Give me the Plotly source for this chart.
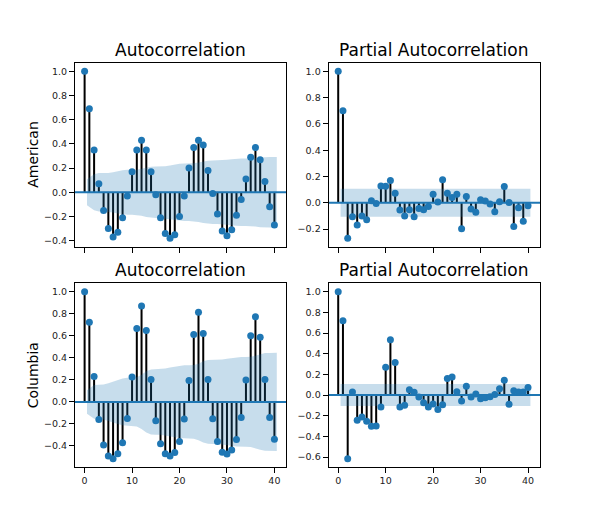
import numpy as np
import plotly.graph_objects as go

# ---------------- data ----------------
lags = list(range(41))

acf_american = [1.0, 0.69, 0.35, 0.07, -0.15, -0.30, -0.37, -0.33, -0.21, -0.03,
                0.17, 0.35, 0.43, 0.35, 0.17, -0.02, -0.21, -0.34, -0.38, -0.35,
                -0.20, -0.03, 0.20, 0.37, 0.43, 0.39, 0.18, -0.01, -0.18, -0.32,
                -0.36, -0.31, -0.19, -0.06, 0.11, 0.29, 0.37, 0.27, 0.09, -0.12,
                -0.27]

pacf_american = [1.0, 0.70, -0.27, -0.107, -0.17, -0.10, -0.13, 0.015, -0.005, 0.128,
                 0.125, 0.17, 0.072, -0.055, -0.10, -0.053, -0.107, -0.043, -0.053, -0.028,
                 0.065, 0.005, 0.175, 0.073, 0.04, 0.065, -0.197, 0.048, -0.048, -0.073,
                 0.023, 0.013, -0.01, -0.068, 0.008, 0.123, 0.003, -0.18, -0.038, -0.14,
                 -0.023]

acf_columbia = [1.0, 0.724, 0.23, -0.16, -0.39, -0.49, -0.515, -0.47, -0.37, -0.15,
                0.227, 0.667, 0.87, 0.648, 0.203, -0.17, -0.38, -0.47, -0.49, -0.46,
                -0.36, -0.155, 0.194, 0.612, 0.815, 0.62, 0.203, -0.152, -0.36, -0.458,
                -0.473, -0.436, -0.342, -0.142, 0.20, 0.60, 0.773, 0.588, 0.203, -0.142,
                -0.34]

pacf_columbia = [1.0, 0.72, -0.616, 0.03, -0.245, -0.213, -0.255, -0.303, -0.30, -0.116,
                 0.268, 0.535, 0.316, -0.116, -0.10, 0.052, 0.026, -0.02, -0.074, -0.116,
                 -0.087, -0.139, -0.094, 0.16, 0.174, 0.032, -0.058, 0.084, -0.02, 0.01,
                 -0.035, -0.026, -0.016, 0.006, 0.061, 0.142, -0.09, 0.042, 0.03, 0.03,
                 0.074]

n_obs = 336          # sample size implied by the +-0.107 band at lag 1
row_labels = ["American", "Columbia"]
titles = ["Autocorrelation", "Partial Autocorrelation"]
x_tick_vals = [0, 10, 20, 30, 40]

# ---------------- confidence bands (statsmodels style) ----------------
def acf_band(r):
    r = np.asarray(r, float)
    var = np.ones(len(r)) / n_obs
    var[0] = 0
    var[2:] *= 1 + 2 * np.cumsum(r[1:-1] ** 2)
    return 1.96 * np.sqrt(var)

def pacf_band(r):
    b = np.full(len(r), 1.96 / np.sqrt(n_obs))
    b[0] = 0
    return b

panels = [
    (acf_american, acf_band(acf_american), titles[0]),
    (pacf_american, pacf_band(pacf_american), titles[1]),
    (acf_columbia, acf_band(acf_columbia), titles[0]),
    (pacf_columbia, pacf_band(pacf_columbia), titles[1]),
]

W, H = 600, 525
OFF = 8  # page body margin
x_doms = [[(75 - OFF) / W, (286.4 - OFF) / W], [(328.6 - OFF) / W, (540 - OFF) / W]]
y_doms = [[1 - (246.6 - OFF) / H, 1 - (63 - OFF) / H],
          [1 - (467 - OFF) / H, 1 - (283.4 - OFF) / H]]

C0 = "#1f77b4"
FONT = "DejaVu Sans"

fig = go.Figure()
layout = dict(width=W, height=H, margin=dict(l=0, r=0, t=0, b=0),
              paper_bgcolor="white", plot_bgcolor="white", showlegend=False,
              annotations=[])

for i, (vals, band, title) in enumerate(panels):
    row, col = divmod(i, 2)
    sfx = "" if i == 0 else str(i + 1)
    xa, ya = "x" + sfx, "y" + sfx

    # band x positions as statsmodels draws them
    bx = [float(v) for v in lags[1:]]
    bx[0] -= 0.5
    bx[-1] += 0.5
    bu = list(band[1:])
    bl = list(-band[1:])

    xlo_d, xhi_d = 0.0, max(bx)
    xpad = 0.05 * (xhi_d - xlo_d)
    xr = [xlo_d - xpad, xhi_d + xpad]
    ylo_d = min(min(vals), min(bl))
    yhi_d = max(max(vals), max(bu))
    ypad = 0.05 * (yhi_d - ylo_d)
    yr = [ylo_d - ypad, yhi_d + ypad]

    # stems
    sx, sy = [], []
    for l, v in zip(lags, vals):
        sx += [l, l, None]
        sy += [0, v, None]
    fig.add_trace(go.Scatter(x=sx, y=sy, mode="lines", xaxis=xa, yaxis=ya,
                             line=dict(color="black", width=2), hoverinfo="skip"))
    # zero line
    fig.add_trace(go.Scatter(x=xr, y=[0, 0], mode="lines", xaxis=xa, yaxis=ya,
                             line=dict(color=C0, width=2), hoverinfo="skip"))
    # markers
    fig.add_trace(go.Scatter(x=lags, y=vals, mode="markers", xaxis=xa, yaxis=ya,
                             marker=dict(color=C0, size=7, line=dict(width=0))))
    # confidence band
    fig.add_trace(go.Scatter(x=bx + bx[::-1], y=bu + bl[::-1], mode="lines",
                             fill="toself", fillcolor="rgba(31,119,180,0.25)",
                             line=dict(width=0), xaxis=xa, yaxis=ya, hoverinfo="skip"))

    axis_common = dict(showgrid=False, zeroline=False, showline=True, mirror=True,
                       linecolor="black", linewidth=1, ticks="outside", ticklen=5,
                       tickwidth=1, tickcolor="black",
                       tickfont=dict(family=FONT, size=9.5, color="#222"))
    layout["xaxis" + sfx] = dict(axis_common, domain=x_doms[col], range=xr,
                                 tickvals=x_tick_vals, showticklabels=(row == 1),
                                 anchor=ya)
    layout["yaxis" + sfx] = dict(axis_common, domain=y_doms[row], range=yr,
                                 tick0=0, dtick=0.2, tickformat=".1f", anchor=xa)

    layout["annotations"].append(dict(
        text=title, xref=xa + " domain", yref=ya + " domain", x=0.5, y=1,
        xanchor="center", yanchor="bottom", yshift=1, showarrow=False,
        font=dict(family=FONT, size=17, color="black")))
    if col == 0:
        layout["annotations"].append(dict(
            text=row_labels[row], xref="paper", yref=ya + " domain",
            x=(33 - OFF) / W, y=0.5,
            xanchor="center", yanchor="middle", textangle=-90, showarrow=False,
            font=dict(family=FONT, size=14, color="black")))

fig.update_layout(**layout)
fig.write_html("out.html")
